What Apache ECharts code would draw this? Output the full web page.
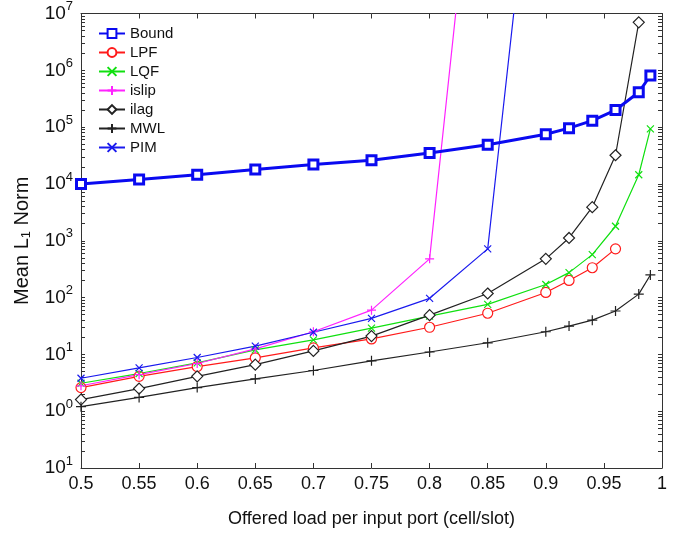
<!DOCTYPE html>
<html>
<head>
<meta charset="utf-8">
<script src="https://cdn.jsdelivr.net/npm/echarts@6/dist/echarts.min.js"></script>
<style>
  html, body { margin: 0; padding: 0; background: #fff; }
  #chart { width: 676px; height: 533px; }
</style>
</head>
<body>
<div id="chart"></div>
<script>
// offered load (x) and mean L1 norm values
const loadsLong = [0.5, 0.55, 0.6, 0.65, 0.7, 0.75, 0.8, 0.85, 0.9, 0.92, 0.94, 0.96, 0.98, 0.99];
const loadsLPF = [0.5, 0.55, 0.6, 0.65, 0.7, 0.75, 0.8, 0.85, 0.9, 0.92, 0.94, 0.96];
const loadsIslip = [0.5, 0.55, 0.6, 0.65, 0.7, 0.75, 0.8, 0.85];
const loadsPIM = [0.5, 0.55, 0.6, 0.65, 0.7, 0.75, 0.8, 0.85, 0.9];
const loadsIlag = [0.5, 0.55, 0.6, 0.65, 0.7, 0.75, 0.8, 0.85, 0.9, 0.92, 0.94, 0.96, 0.98];

const bound = [1.0e4, 1.2e4, 1.45e4, 1.8e4, 2.2e4, 2.6e4, 3.5e4, 4.9e4, 7.5e4, 9.6e4, 1.3e5, 2.0e5, 4.1e5, 8.1e5];
const lpf = [2.6, 4.1, 6.1, 8.7, 13, 18.7, 30, 53, 123, 200, 335, 720];
const lqf = [3.1, 4.6, 7.1, 12, 18, 29, 47, 76, 170, 275, 570, 1800, 1.45e4, 9.3e4];
const islip = [2.8, 4.4, 6.9, 12.5, 25, 60, 480, 2e12];
const ilag = [1.6, 2.5, 4.1, 6.6, 11.5, 21, 49, 118, 480, 1120, 3900, 3.2e4, 7e6];
const mwl = [1.2, 1.75, 2.6, 3.7, 5.2, 7.7, 11, 16, 25, 31.5, 40, 58, 115, 250];
const pim = [3.8, 5.8, 8.8, 14, 24.5, 43, 97, 720, 1.3e12];

const xTicks = ['0.5', '0.55', '0.6', '0.65', '0.7', '0.75', '0.8', '0.85', '0.9', '0.95', '1'];
const decades = [-1, 0, 1, 2, 3, 4, 5, 6];

const pairs = (xs, ys) => xs.map((x, i) => [x, ys[i]]);

// 1..9 x 10^k ticks for the log axes (decade ticks plus the minor ones)
const logTicks = [];
decades.forEach((k) => {
  for (let m = 1; m <= 9; m++) logTicks.push(+(m * Math.pow(10, k)).toPrecision(3));
});
logTicks.push(1e7);

const crossPath = 'path://M0 0L10 10M10 0L0 10';
const plusPath = 'path://M5 0L5 10M0 5L10 5';
const font = 'Liberation Sans, Arial, Helvetica, sans-serif';

function series(name, data, color, symbol, size, width) {
  return {
    name: name,
    type: 'line',
    data: data,
    symbol: symbol,
    symbolSize: size,
    showAllSymbol: true,
    lineStyle: { color: color, width: width },
    itemStyle: { color: '#fff', borderColor: color, borderWidth: width },
    emphasis: { disabled: true },
    z: name === 'Bound' ? 5 : 3,
  };
}

// invisible series so the top and right frame axes get ticks
function helper(xIndex, yIndex, data) {
  return {
    name: '_frame' + xIndex + yIndex,
    type: 'line',
    xAxisIndex: xIndex,
    yAxisIndex: yIndex,
    data: data,
    symbol: 'none',
    silent: true,
    lineStyle: { opacity: 0 },
    emphasis: { disabled: true },
  };
}

function logAxis(position, extra) {
  return Object.assign({
    type: 'log',
    logBase: 10,
    min: 0.1,
    max: 1e7,
    position: position,
    axisLine: { onZero: false, lineStyle: { color: '#333', width: 1 } },
    axisTick: { inside: true, length: 4, customValues: logTicks, lineStyle: { color: '#333' } },
    axisLabel: { show: false },
    splitLine: { show: false },
  }, extra);
}

const chart = echarts.init(document.getElementById('chart'));
chart.setOption({
  animation: false,
  textStyle: { fontFamily: font },
  grid: { left: 81, right: 14, top: 13, bottom: 61 },
  legend: {
    orient: 'vertical',
    left: 93,
    top: 21,
    itemWidth: 26,
    itemHeight: 11,
    itemGap: 4,
    textStyle: { fontSize: 15, lineHeight: 12, color: '#111', fontFamily: font },
    data: ['Bound', 'LPF', 'LQF', 'islip', 'ilag', 'MWL', 'PIM'],
  },
  xAxis: [{
    type: 'value',
    min: 0.5,
    max: 1,
    interval: 0.05,
    name: 'Offered load per input port (cell/slot)',
    nameLocation: 'middle',
    nameGap: 42,
    nameTextStyle: { fontSize: 18, color: '#111', fontFamily: font },
    axisLine: { onZero: false, lineStyle: { color: '#333', width: 1 } },
    axisTick: { inside: true, length: 5, lineStyle: { color: '#333' } },
    axisLabel: { fontSize: 18, color: '#111', margin: 7, formatter: (v) => xTicks[Math.round((v - 0.5) / 0.05)] },
    splitLine: { show: false },
  }, {
    type: 'value',
    position: 'top',
    min: 0.5,
    max: 1,
    interval: 0.05,
    axisLine: { onZero: false, lineStyle: { color: '#333', width: 1 } },
    axisTick: { inside: true, length: 5, lineStyle: { color: '#333' } },
    axisLabel: { show: false },
    splitLine: { show: false },
  }],
  yAxis: [
    logAxis('left', {
      name: '{n|Mean L}{s|1}{n| Norm}',
      nameLocation: 'middle',
      nameGap: 48,
      nameRotate: 90,
      nameTextStyle: {
        rich: {
          n: { fontSize: 20, color: '#111', fontFamily: font },
          s: { fontSize: 13, color: '#111', fontFamily: font, verticalAlign: 'bottom', padding: [8, 0, 0, 0] },
        },
      },
      axisLabel: {
        margin: 8,
        formatter: (v) => '{b|10}{e|' + Math.abs(Math.round(Math.log10(v))) + '}',
        rich: {
          b: { fontSize: 19, color: '#111', fontFamily: font },
          e: { fontSize: 13, color: '#111', fontFamily: font, verticalAlign: 'top', padding: [0, 0, 14, 0] },
        },
      },
    }),
    logAxis('right', {}),
  ],
  series: [
    series('Bound', pairs(loadsLong, bound), '#0a0af0', 'rect', 9, 3),
    series('LPF', pairs(loadsLPF, lpf), '#ff1a1a', 'circle', 10, 1.2),
    series('LQF', pairs(loadsLong, lqf), '#10e010', crossPath, 7, 1.2),
    series('islip', pairs(loadsIslip, islip), '#ff22ff', plusPath, 9, 1.2),
    series('ilag', pairs(loadsIlag, ilag), '#222', 'diamond', 11, 1.2),
    series('MWL', pairs(loadsLong, mwl), '#222', plusPath, 10, 1.2),
    series('PIM', pairs(loadsPIM, pim), '#1a1aee', crossPath, 7, 1.2),
    helper(1, 1, pairs(loadsLong, bound)),
  ],
});
</script>
</body>
</html>
